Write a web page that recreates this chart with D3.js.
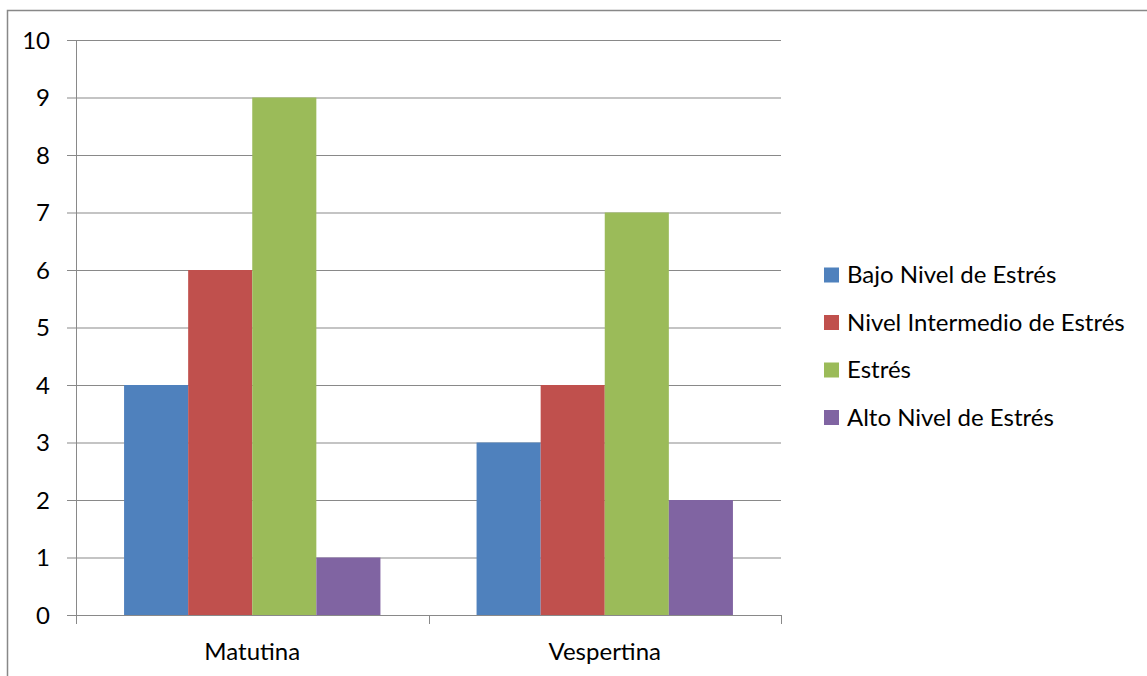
<!DOCTYPE html>
<html><head><meta charset="utf-8">
<script src="https://cdn.jsdelivr.net/npm/d3@7"></script>
<style>html,body{margin:0;padding:0;background:#fff;}svg{display:block;}</style>
</head><body>
<svg id="c" width="1147" height="676"></svg>
<script>
const categories = ["Matutina", "Vespertina"];
const seriesNames = ["Bajo Nivel de Estrés", "Nivel Intermedio de Estrés", "Estrés", "Alto Nivel de Estrés"];
const bajo = [4, 3];
const intermedio = [6, 4];
const estres = [9, 7];
const alto = [1, 2];
const yTicks = [0,1,2,3,4,5,6,7,8,9,10];
const colors = ["#4F81BD", "#C0504D", "#9BBB59", "#8064A2"];
const seriesValues = [bajo, intermedio, estres, alto];

const font = "Lato, 'Open Sans', sans-serif";
const fs = 24;
const svg = d3.select("#c");
svg.append("rect").attr("x",7.5).attr("y",10.5).attr("width",1160).attr("height",700)
  .attr("fill","none").attr("stroke","#888").attr("stroke-width",1.5);

const L=76, R=781, T=40, B=615;
const y = d3.scaleLinear().domain([0,10]).range([B,T]);
const x0 = d3.scaleBand().domain(categories).range([L,R]).paddingInner(0).paddingOuter(0);
const groupW = x0.bandwidth()*4/5.5;
const x1 = d3.scaleBand().domain(d3.range(4)).range([0,groupW]);

svg.append("g").selectAll("line").data(yTicks).join("line")
  .attr("x1",L-9).attr("x2",R).attr("y1",d=>y(d)+0.5).attr("y2",d=>y(d)+0.5)
  .attr("stroke","#898989").attr("stroke-width",1);

categories.forEach((c,ci)=>{
  const gx = x0(c) + (x0.bandwidth()-groupW)/2;
  svg.append("g").selectAll("rect").data(seriesValues.map((s,si)=>({si,v:s[ci]}))).join("rect")
    .attr("x",d=>gx+x1(d.si)).attr("width",x1.bandwidth())
    .attr("y",d=>y(d.v)).attr("height",d=>B-y(d.v))
    .attr("fill",d=>colors[d.si]);
});

svg.append("line").attr("x1",L+0.5).attr("x2",L+0.5).attr("y1",T).attr("y2",B).attr("stroke","#898989");
svg.append("g").selectAll("text").data(yTicks).join("text")
  .attr("x",50).attr("y",d=>y(d)).attr("dy","0.36em").attr("text-anchor","end")
  .attr("font-family",font).attr("font-size",fs).attr("fill","#000").text(d=>d);

svg.append("line").attr("x1",L).attr("x2",R).attr("y1",B+0.5).attr("y2",B+0.5).attr("stroke","#898989");
const xb = [L, L+x0.bandwidth(), R];
svg.append("g").selectAll("line").data(xb).join("line")
  .attr("x1",d=>Math.round(d)+0.5).attr("x2",d=>Math.round(d)+0.5).attr("y1",B).attr("y2",B+9)
  .attr("stroke","#898989");
svg.append("g").selectAll("text").data(categories).join("text")
  .attr("x",d=>x0(d)+x0.bandwidth()/2).attr("y",660).attr("text-anchor","middle")
  .attr("font-family",font).attr("font-size",fs).attr("fill","#000").text(d=>d);

const lg = svg.append("g").selectAll("g").data(seriesNames).join("g")
  .attr("transform",(d,i)=>`translate(824,${274.5+i*47.5})`);
lg.append("rect").attr("x",0).attr("y",-7).attr("width",15).attr("height",15).attr("fill",(d,i)=>colors[i]);
lg.append("text").attr("x",23).attr("y",0).attr("dy","0.36em")
  .attr("font-family",font).attr("font-size",fs).attr("fill","#000").text(d=>d);
</script>
</body></html>
